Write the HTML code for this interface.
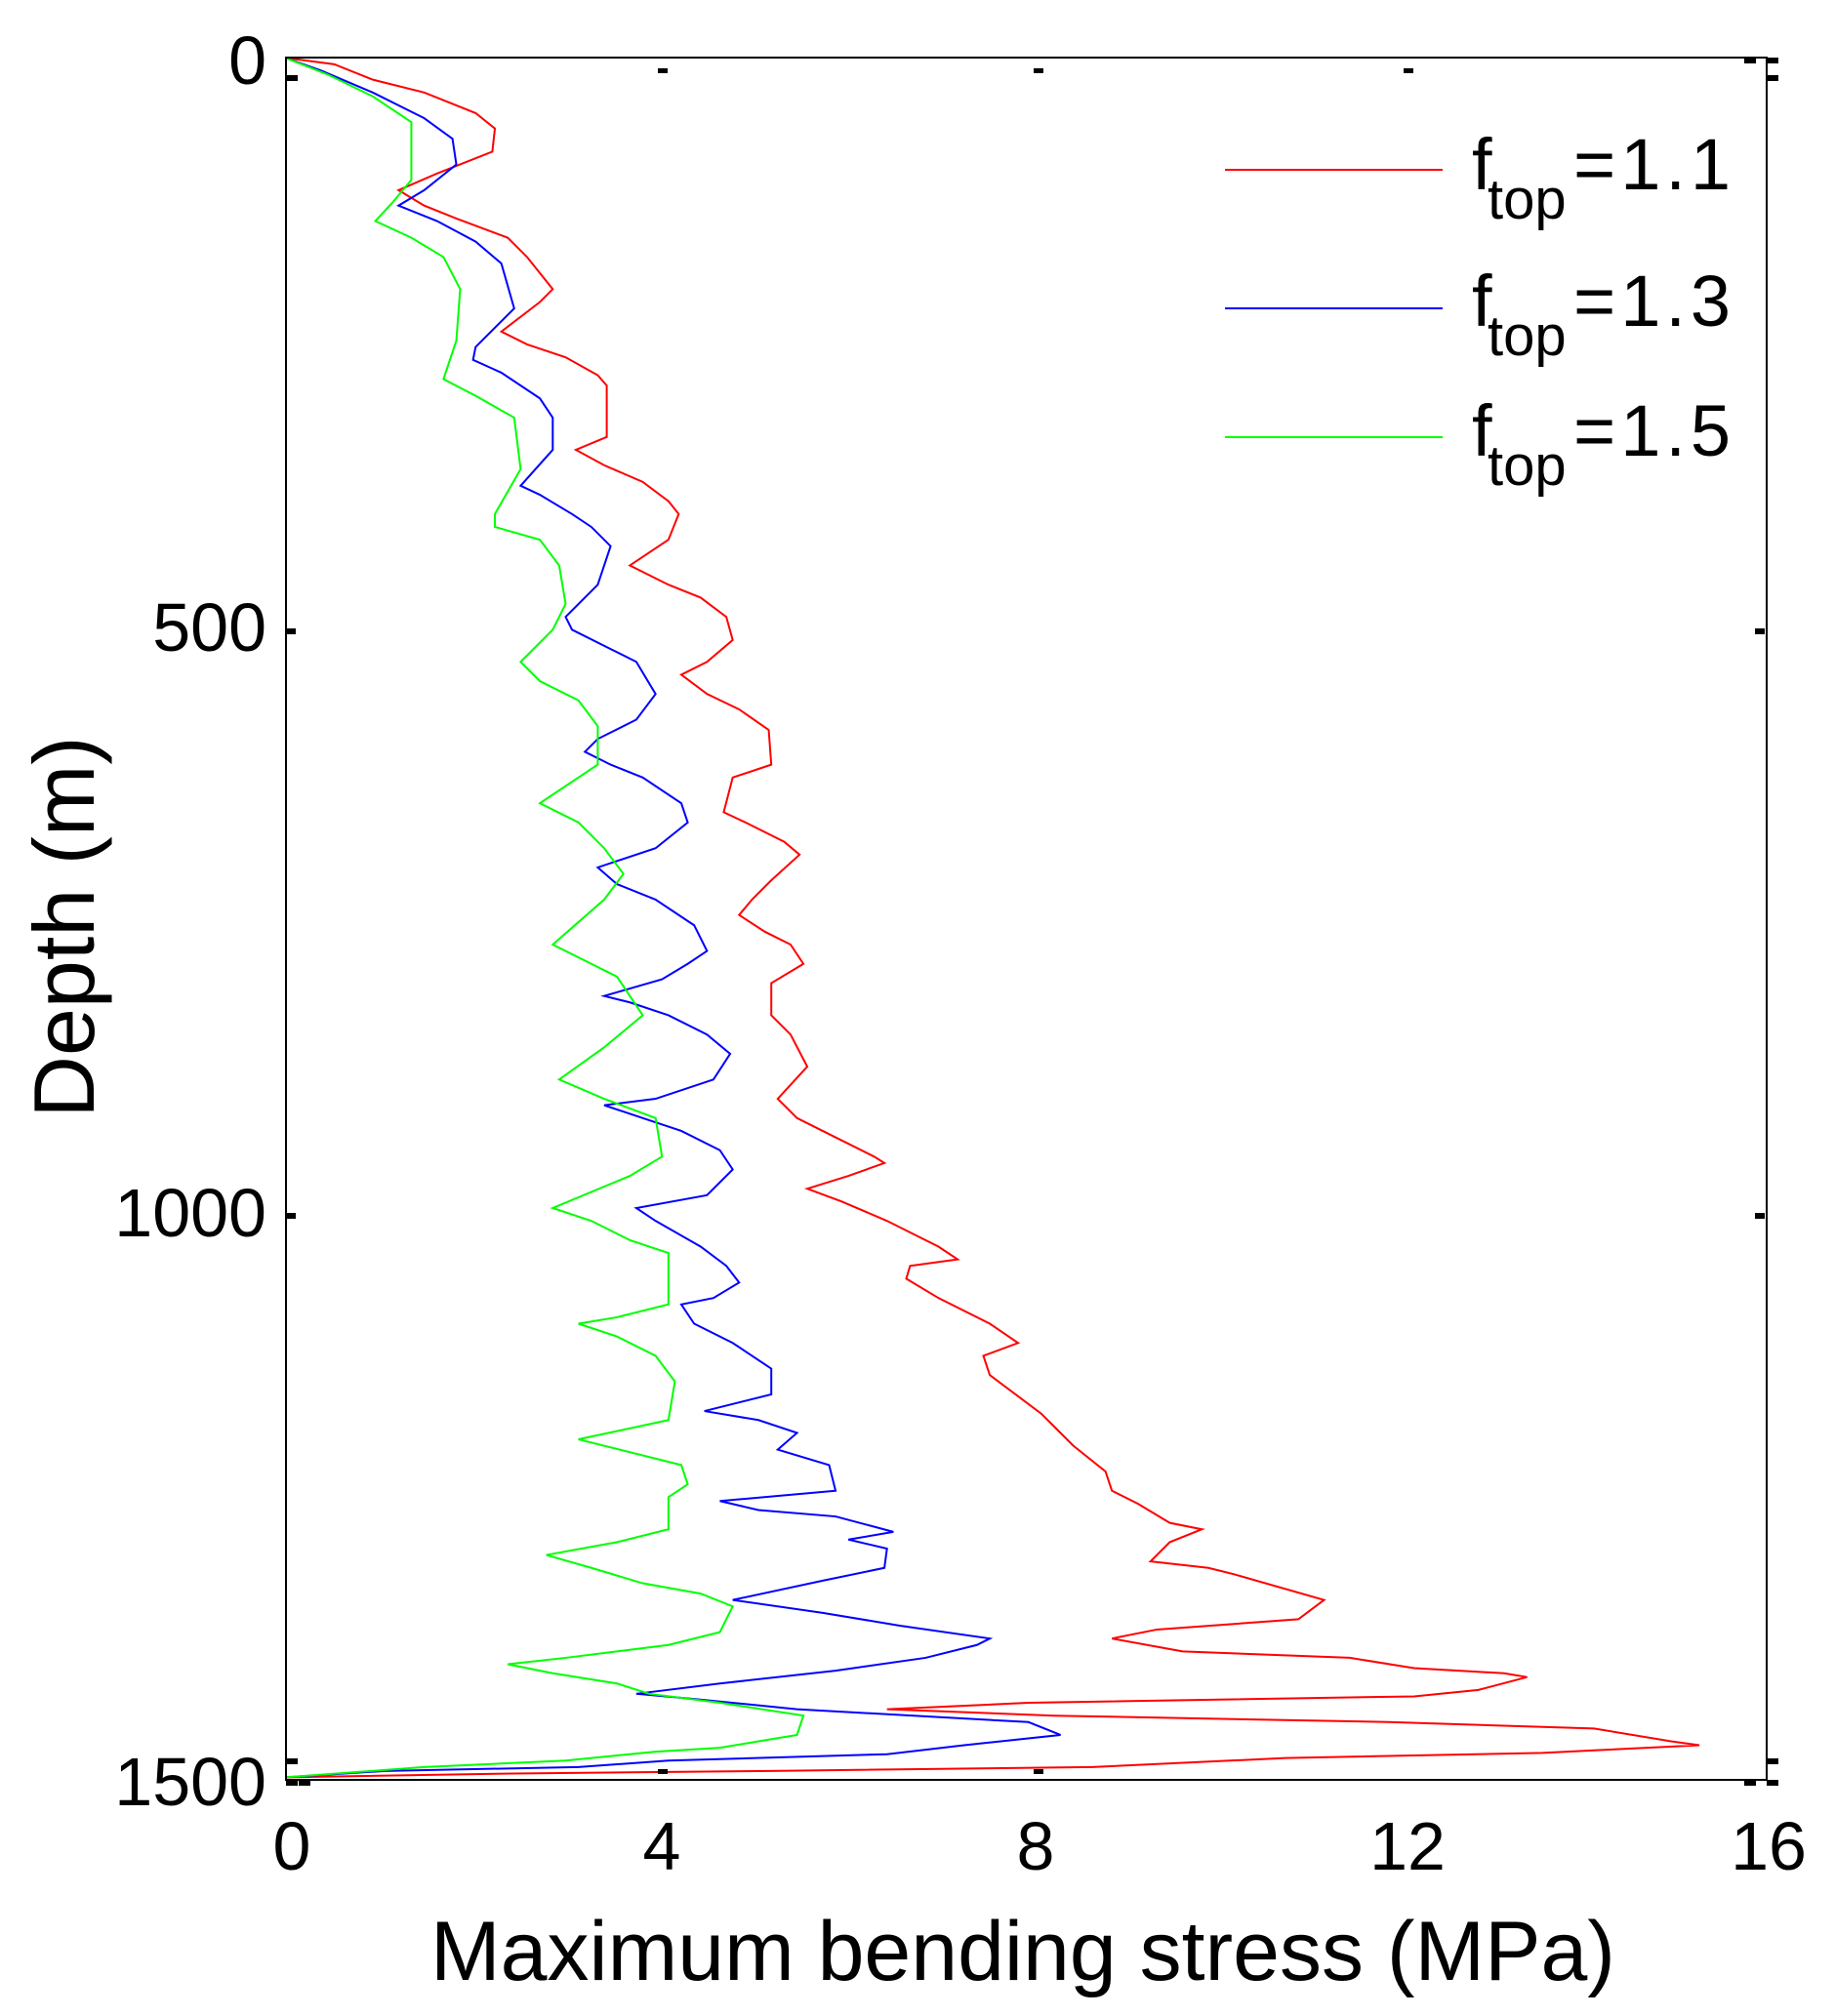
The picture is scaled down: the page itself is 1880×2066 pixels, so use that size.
<!DOCTYPE html>
<html><head><meta charset="utf-8"><style>
html,body{margin:0;padding:0;background:#fff;}
svg{display:block;}
text{font-family:"Liberation Sans",Arial,sans-serif;fill:#000;}
</style></head><body>
<svg width="1880" height="2066" viewBox="0 0 1880 2066" xmlns="http://www.w3.org/2000/svg">
<rect width="1880" height="2066" fill="#fff"/>
<g transform="scale(1.317)" fill="none" stroke-width="2" stroke-linejoin="miter">
<polyline vector-effect="non-scaling-stroke" stroke="#ff0000" points="222,45 260,50 290,62 330,72 370,88 385,100 383,118 340,135 310,148 330,160 355,170 395,185 410,200 430,225 420,235 390,258 410,268 440,278 465,292 472,300 472,340 448,350 470,362 500,375 520,390 528,400 520,420 490,440 520,455 545,465 565,480 570,498 550,515 530,525 550,540 575,552 598,568 600,595 570,605 563,632 580,640 610,655 622,665 600,685 585,700 575,712 595,725 615,735 625,750 600,765 600,790 615,805 628,830 605,855 620,870 650,885 680,900 688,905 660,915 628,925 655,935 690,950 730,970 745,980 708,985 705,995 730,1010 770,1030 792,1045 765,1055 770,1070 790,1085 810,1100 820,1110 835,1125 860,1145 865,1160 885,1170 910,1185 935,1190 910,1200 895,1215 940,1220 960,1225 1030,1245 1010,1260 900,1268 865,1275 920,1285 1050,1290 1100,1298 1170,1302 1188,1305 1150,1315 1100,1320 800,1325 690,1330 820,1335 1080,1340 1240,1345 1300,1355 1322,1358 1240,1362 1200,1364 1000,1368 850,1375 600,1378 400,1380 222,1383"/>
<polyline vector-effect="non-scaling-stroke" stroke="#0000ff" points="222,45 250,55 290,72 330,92 352,108 355,128 330,148 310,160 340,172 370,188 390,205 400,240 385,255 370,270 368,280 390,290 420,310 430,325 430,350 405,378 420,385 445,400 460,410 475,425 465,455 440,480 445,490 475,505 495,515 510,540 495,560 465,575 455,585 475,595 500,605 530,625 535,640 510,660 465,675 480,688 510,700 540,720 550,740 535,750 515,762 470,775 490,780 520,790 550,805 568,820 555,840 510,855 470,860 500,870 530,880 560,895 570,910 550,930 495,940 510,950 545,970 565,985 575,998 555,1010 530,1015 540,1030 570,1045 600,1065 600,1085 548,1098 590,1105 620,1115 605,1128 645,1140 650,1160 560,1168 590,1175 650,1180 695,1192 660,1198 690,1205 688,1220 640,1230 570,1245 640,1255 700,1265 770,1275 760,1280 720,1290 650,1300 560,1310 495,1318 540,1322 620,1330 800,1340 825,1350 750,1358 690,1365 520,1370 450,1375 300,1378 222,1383"/>
<polyline vector-effect="non-scaling-stroke" stroke="#00ff00" points="222,45 255,58 290,75 320,95 320,140 305,158 292,172 320,185 345,200 358,225 355,265 345,295 370,308 400,325 405,365 385,400 385,410 420,420 435,440 440,470 430,490 405,515 420,530 450,545 465,565 465,595 420,625 450,640 470,660 485,680 470,700 430,735 460,750 480,760 500,790 470,815 435,840 470,855 510,870 515,900 490,915 430,940 460,950 490,965 520,975 520,1015 480,1025 450,1030 480,1040 510,1055 525,1075 520,1105 450,1120 490,1130 530,1140 535,1155 520,1165 520,1190 480,1200 425,1210 460,1220 500,1232 545,1240 570,1250 560,1270 520,1280 440,1290 395,1295 430,1302 480,1310 505,1318 560,1325 625,1335 620,1350 560,1360 510,1363 440,1370 330,1375 222,1383"/>
</g>
<rect x="293" y="59" width="1517" height="1765" fill="none" stroke="#000" stroke-width="2"/>
<g fill="#000">
<rect x="293" y="77" width="12" height="6"/>
<rect x="293" y="644" width="10" height="6"/>
<rect x="293" y="1243" width="10" height="6"/>
<rect x="293" y="1802" width="12" height="6"/>
<rect x="1798" y="644" width="10" height="6"/>
<rect x="1798" y="1243" width="10" height="6"/>
<rect x="1810" y="1802" width="12" height="6"/>
<rect x="1810" y="1824" width="12" height="6"/>
<rect x="1787" y="1824" width="12" height="6"/>
<rect x="1810" y="59" width="12" height="6"/>
<rect x="1810" y="77" width="12" height="6"/>
<rect x="1787" y="59" width="12" height="6"/>
<rect x="306" y="1824" width="12" height="6"/>
<rect x="293" y="1824" width="12" height="6"/>
<rect x="674" y="70" width="10" height="5"/>
<rect x="1059" y="70" width="10" height="5"/>
<rect x="1438" y="70" width="10" height="5"/>
<rect x="674" y="1813" width="10" height="5"/>
<rect x="1059" y="1813" width="10" height="5"/>
</g>
<g font-size="70">
<text x="273" y="86" text-anchor="end">0</text>
<text x="273" y="667" text-anchor="end">500</text>
<text x="273" y="1267" text-anchor="end">1000</text>
<text x="273" y="1850" text-anchor="end">1500</text>
<text x="299" y="1916" text-anchor="middle">0</text>
<text x="678" y="1916" text-anchor="middle">4</text>
<text x="1061" y="1916" text-anchor="middle">8</text>
<text x="1442" y="1916" text-anchor="middle">12</text>
<text x="1812" y="1916" text-anchor="middle">16</text>
</g>
<text x="1048" y="2029" font-size="86" text-anchor="middle">Maximum bending stress (MPa)</text>
<text transform="translate(96,950) rotate(-90)" font-size="88" text-anchor="middle">Depth (m)</text>
<g stroke-width="2" fill="none">
<line x1="1255" y1="174" x2="1478" y2="174" stroke="#ff0000"/>
<line x1="1255" y1="316" x2="1478" y2="316" stroke="#0000ff"/>
<line x1="1255" y1="448" x2="1478" y2="448" stroke="#00ff00"/>
</g>
<g font-size="74">
<text x="1508" y="194">f</text><text x="1524" y="224" font-size="58">top</text><text x="1612" y="194" letter-spacing="5">=1.1</text>
<text x="1508" y="334">f</text><text x="1524" y="364" font-size="58">top</text><text x="1612" y="334" letter-spacing="5">=1.3</text>
<text x="1508" y="467">f</text><text x="1524" y="497" font-size="58">top</text><text x="1612" y="467" letter-spacing="5">=1.5</text>
</g>
</svg>
</body></html>
